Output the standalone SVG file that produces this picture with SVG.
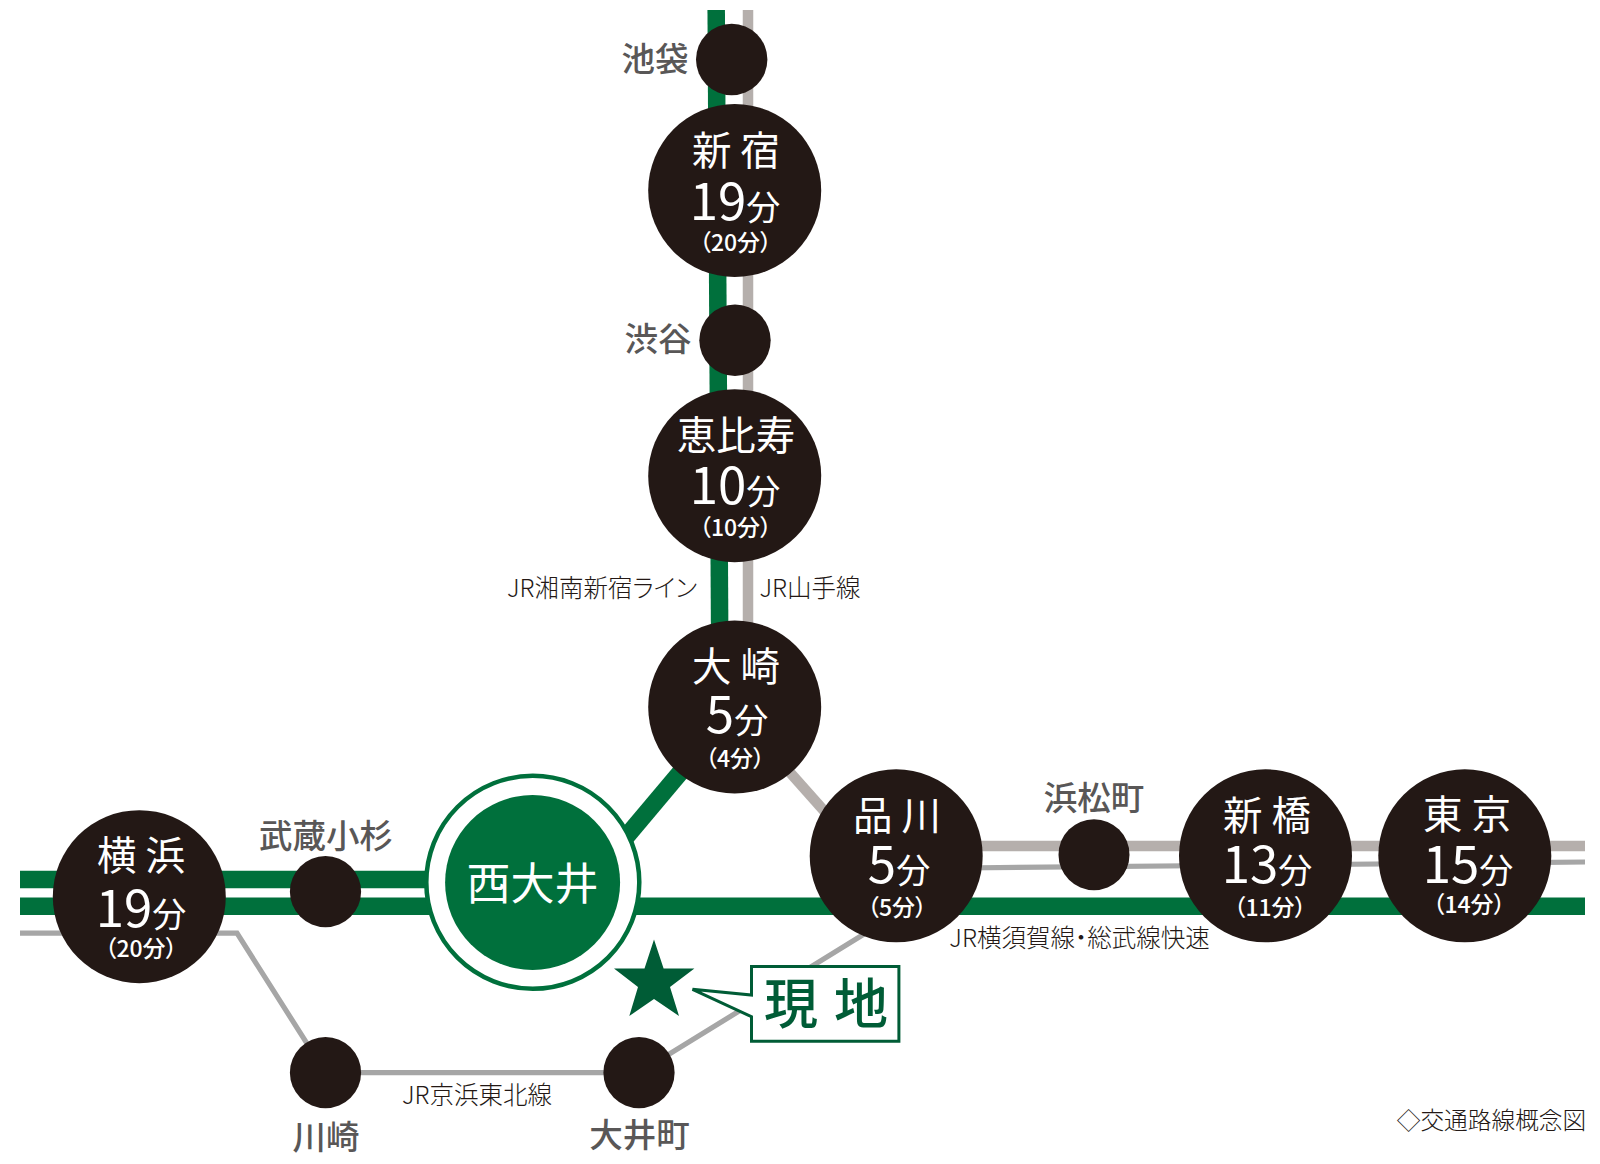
<svg xmlns="http://www.w3.org/2000/svg" width="1600" height="1164" viewBox="0 0 1600 1164">
<style>
text{font-family:"Noto Sans CJK JP","Noto Sans",sans-serif;text-anchor:middle}
.st{fill:#231815}
.n{fill:#fff;font-size:39.5px}
.t{fill:#fff;font-size:51px}
.t tspan{font-size:34px}
.s{fill:#fff;font-size:23px;font-weight:500;font-feature-settings:"palt"}
.g{fill:#595757;font-size:33.5px;font-weight:500}
.l{fill:#231815;font-size:24.5px;font-weight:300}
.gr{stroke:#00703c;stroke-width:17.5;fill:none}
.sy{stroke:#b5afac;stroke-width:10.5;fill:none}
.kt{stroke:#a6a6a6;stroke-width:5.2;fill:none}
</style>
<rect width="1600" height="1164" fill="#fff"/>
<g id="connectors">
<path class="gr" d="M716.2 10L719.7 640"/>
<path class="sy" d="M748 10V640"/>
<path class="gr" d="M20 879.6H430M20 906.3H430M620 906.3H1585"/>
<path class="gr" d="M700 749L610 856"/>
<path class="sy" d="M770 750L850 840"/>
<path class="sy" d="M960 846H1585"/>
<path class="kt" d="M960 868L1585 862"/>
<path class="kt" d="M20 933.2H237L325.5 1072.7H639L895 915"/>
</g>
<g id="station-ikebukuro"><circle class="st" cx="731.7" cy="59.5" r="35.7"/><text class="g" x="655" y="70.500">池袋</text></g>
<g id="station-shinjuku"><circle class="st" cx="734.7" cy="190.5" r="86.5"/><text class="n" x="736" y="165">新 宿</text><text class="t" x="735" y="220">19<tspan>分</tspan></text><text class="s" x="735.500" y="251">（20分）</text></g>
<g id="station-shibuya"><circle class="st" cx="735" cy="340.3" r="35.7"/><text class="g" x="658" y="351">渋谷</text></g>
<g id="station-ebisu"><circle class="st" cx="734.7" cy="475.7" r="86.5"/><text class="n" x="736" y="450">恵比寿</text><text class="t" x="735" y="504">10<tspan>分</tspan></text><text class="s" x="735.500" y="536">（10分）</text></g>
<g id="station-osaki"><circle class="st" cx="734.7" cy="707" r="86.5"/><text class="n" x="736" y="681">大 崎</text><text class="t" x="737" y="733">5<tspan>分</tspan></text><text class="s" x="735" y="767">（4分）</text></g>
<g id="station-shinagawa"><circle class="st" cx="896.2" cy="855.8" r="86.5"/><text class="n" x="897" y="830">品 川</text><text class="t" x="899" y="883">5<tspan>分</tspan></text><text class="s" x="897" y="916">（5分）</text></g>
<g id="station-hamamatsucho"><circle class="st" cx="1094" cy="854.7" r="35.5"/><text class="g" x="1094" y="810">浜松町</text></g>
<g id="station-shinbashi"><circle class="st" cx="1265.5" cy="855.8" r="86.5"/><text class="n" x="1267" y="830">新 橋</text><text class="t" x="1267" y="883">13<tspan>分</tspan></text><text class="s" x="1270" y="916">（11分）</text></g>
<g id="station-tokyo"><circle class="st" cx="1464.8" cy="855.8" r="86.5"/><text class="n" x="1467" y="829">東 京</text><text class="t" x="1468" y="883">15<tspan>分</tspan></text><text class="s" x="1469" y="913">（14分）</text></g>
<g id="station-yokohama"><circle class="st" cx="139.3" cy="896.7" r="86.5"/><text class="n" x="141" y="870">横 浜</text><text class="t" x="141" y="927">19<tspan>分</tspan></text><text class="s" x="141" y="957">（20分）</text></g>
<g id="station-musashikosugi"><circle class="st" cx="325.5" cy="891.7" r="35.6"/><text class="g" x="326" y="848">武蔵小杉</text></g>
<g id="station-kawasaki"><circle class="st" cx="325.5" cy="1072.7" r="35.6"/><text class="g" x="326" y="1149">川崎</text></g>
<g id="station-oimachi"><circle class="st" cx="639" cy="1072.7" r="35.6"/><text class="g" x="639.500" y="1147">大井町</text></g>
<g id="station-nishioi"><circle cx="532.8" cy="882.3" r="106.5" fill="#fff" stroke="#00703c" stroke-width="4.5"/><circle cx="532.6" cy="882.5" r="87.5" fill="#00703c"/><text x="532.6" y="899.500" fill="#fff" font-size="44">西大井</text></g>
<g id="site">
<polygon points="654,939.500 663.6,968.500 694.4,968.500 670,987 679,1016 654,999 629.3,1016 638,987 614,968.500 644.5,968.500" fill="#005c36"/>
<path d="M751.5 966.500H898.9V1041.2H751.500V1016.7L692.5 989.3L751.500 995Z" fill="#fff" stroke="#005c36" stroke-width="3"/>
<text x="826" y="1024" fill="#005c36" font-size="54" font-weight="500" word-spacing="4">現 地</text>
</g>
<g id="labels">
<text class="l" x="602" y="597" style="font-feature-settings:'palt'">JR湘南新宿ライン</text>
<text class="l" x="810" y="597">JR山手線</text>
<text class="l" x="1079.500" y="947">JR横須賀線<tspan style="font-feature-settings:'palt'">・</tspan>総武線快速</text>
<text class="l" x="477" y="1104">JR京浜東北線</text>
<text class="l" x="1491.5" y="1129" style="font-size:23.7px">◇交通路線概念図</text>
</g>
</svg>
